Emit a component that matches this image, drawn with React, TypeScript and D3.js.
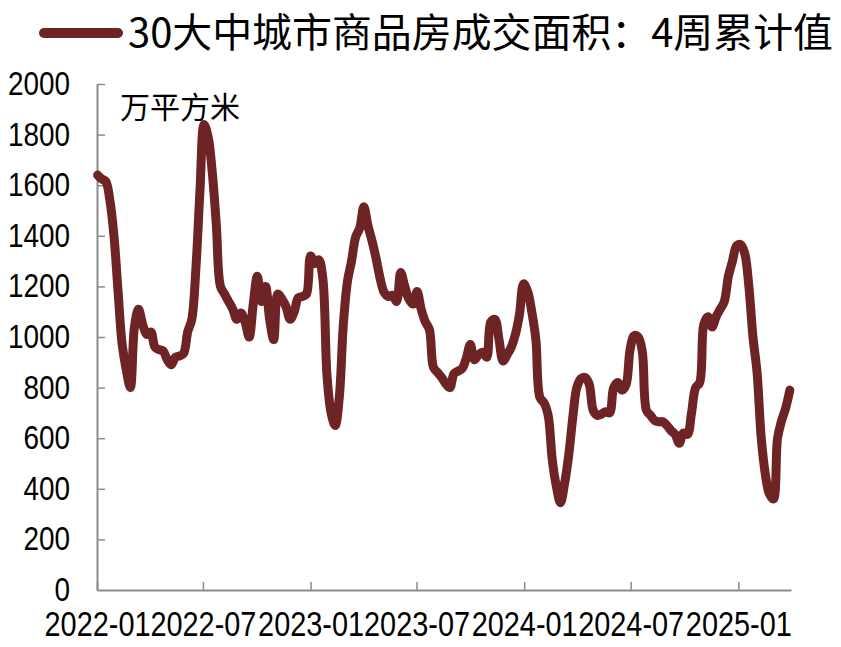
import React, { useRef, useEffect } from 'react';
import * as d3 from 'd3';

// weekly values, first week 2022-01-02
const startWeek = '2022-01-02';
const area = [
  1640, 1625, 1615, 1540, 1400, 1180, 970, 870, 800, 1040,
  1110, 1050, 1010, 1020, 960, 950, 945, 910, 890, 920,
  925, 935, 1020, 1070, 1270, 1580, 1840, 1790, 1650, 1440,
  1200, 1170, 1140, 1110, 1070, 1095, 1060, 1000, 1130, 1240,
  1140, 1200, 1070, 990, 1170, 1150, 1120, 1070, 1100, 1155,
  1160, 1170, 1320, 1290, 1305, 1230, 850, 700, 650, 760,
  1050, 1220, 1300, 1395, 1430, 1515, 1440, 1380, 1310, 1230,
  1175, 1160, 1165, 1140, 1255, 1200, 1150, 1130, 1180, 1110,
  1060, 1030, 880, 860, 840, 815, 800, 855, 865, 875,
  915, 970, 910, 930, 940, 920, 1060, 1070, 990, 905,
  930, 960, 1010, 1090, 1210, 1180, 1100, 990, 760, 740,
  690, 515, 410, 345, 420, 530, 680, 800, 835, 840,
  815, 710, 690, 695, 705, 700, 800, 820, 790, 810,
  950, 1005, 1000, 940, 710, 690, 670, 665, 665, 650,
  630, 615, 580, 620, 615, 700, 800, 820, 1050, 1080,
  1040, 1080, 1110, 1140, 1240, 1300, 1360, 1365, 1330, 1200,
  1000, 860, 605, 460, 380, 360, 600, 670, 720, 790,
];
const yTicks = [0, 200, 400, 600, 800, 1000, 1200, 1400, 1600, 1800, 2000];
const xTickLabels = ['2022-01', '2022-07', '2023-01', '2023-07', '2024-01', '2024-07', '2025-01'];
const seriesName = '30大中城市商品房成交面积：4周累计值';
const unitLabel = '万平方米';

const App = () => {
  const Svg = useRef<SVGSVGElement>(null);
  useEffect(() => {
    const width = 841;
    const height = 647;
    const color = '#6e2424';
    const axisColor = '#8c8c8c';
    const numFont = '"Liberation Sans", Arial, sans-serif';
    const cjkFont = '"Noto Sans CJK SC", sans-serif';
    const digitW = 15.5; // narrow digits of the original

    const svg = d3.select(Svg.current).attr('width', width).attr('height', height);
    svg.selectAll('*').remove();

    const t0 = d3.timeParse('%Y-%m-%d')(startWeek) as Date;
    const data = area.map((v, i) => ({ date: d3.timeWeek.offset(t0, i), v }));

    const xScale = d3
      .scaleTime()
      .domain([new Date(2022, 0, 1), new Date(2025, 3, 1)])
      .range([97, 791]);
    const yScale = d3.scaleLinear().domain([0, 2000]).range([590, 84]);

    // axes
    const tickDates = xTickLabels.map((s) => d3.timeParse('%Y-%m')(s) as Date);
    const xAxis = d3
      .axisBottom(xScale)
      .tickValues(tickDates)
      .tickSizeInner(-8)
      .tickSizeOuter(0)
      .tickPadding(21)
      .tickFormat((d, i) => xTickLabels[i]);
    const gx = svg.append('g').attr('transform', `translate(0, ${yScale(0)})`).call(xAxis);

    const yAxis = d3
      .axisLeft(yScale)
      .tickValues(yTicks)
      .tickSizeInner(-8)
      .tickSizeOuter(0)
      .tickPadding(27)
      .tickFormat((d) => String(d));
    const gy = svg.append('g').attr('transform', `translate(${xScale.range()[0]}, 0)`).call(yAxis);

    [gx, gy].forEach((g) => {
      g.select('.domain').attr('stroke', axisColor).attr('stroke-width', 2);
      g.selectAll('.tick line').attr('stroke', axisColor).attr('stroke-width', 1.5);
      g.selectAll('.tick text')
        .attr('fill', '#000')
        .attr('font-family', numFont)
        .attr('font-size', 33)
        .attr('lengthAdjust', 'spacingAndGlyphs');
    });
    gy.selectAll('.tick').filter((d) => d === 0).select('line').remove();
    gy.selectAll<SVGTextElement, number>('.tick text').attr('textLength', (d) => String(d).length * digitW);
    gx.selectAll('.tick text').attr('dy', '0.71em').attr('font-size', 35).attr('textLength', 106);

    // line
    const line = d3
      .line<{ date: Date; v: number }>()
      .x((d) => xScale(d.date))
      .y((d) => yScale(d.v))
      .curve(d3.curveCatmullRom.alpha(0.5));
    svg
      .append('path')
      .datum(data)
      .attr('d', line)
      .attr('fill', 'none')
      .attr('stroke', color)
      .attr('stroke-width', 9)
      .attr('stroke-linejoin', 'round')
      .attr('stroke-linecap', 'round');

    // unit
    svg
      .append('text')
      .attr('x', 120)
      .attr('y', 118)
      .attr('font-family', cjkFont)
      .attr('font-size', 30)
      .attr('fill', '#000')
      .text(unitLabel);

    // legend
    svg
      .append('line')
      .attr('x1', 44)
      .attr('x2', 118)
      .attr('y1', 33)
      .attr('y2', 33)
      .attr('stroke', color)
      .attr('stroke-width', 10)
      .attr('stroke-linecap', 'round');
    svg
      .append('text')
      .attr('x', 128)
      .attr('y', 47)
      .attr('font-family', cjkFont)
      .attr('font-size', 40)
      .attr('fill', '#000')
      .attr('textLength', 705)
      .attr('lengthAdjust', 'spacingAndGlyphs')
      .text(seriesName);
  }, []);
  return <svg ref={Svg} style={{ position: 'absolute', left: 0, top: 0 }} />;
};

export default App;
